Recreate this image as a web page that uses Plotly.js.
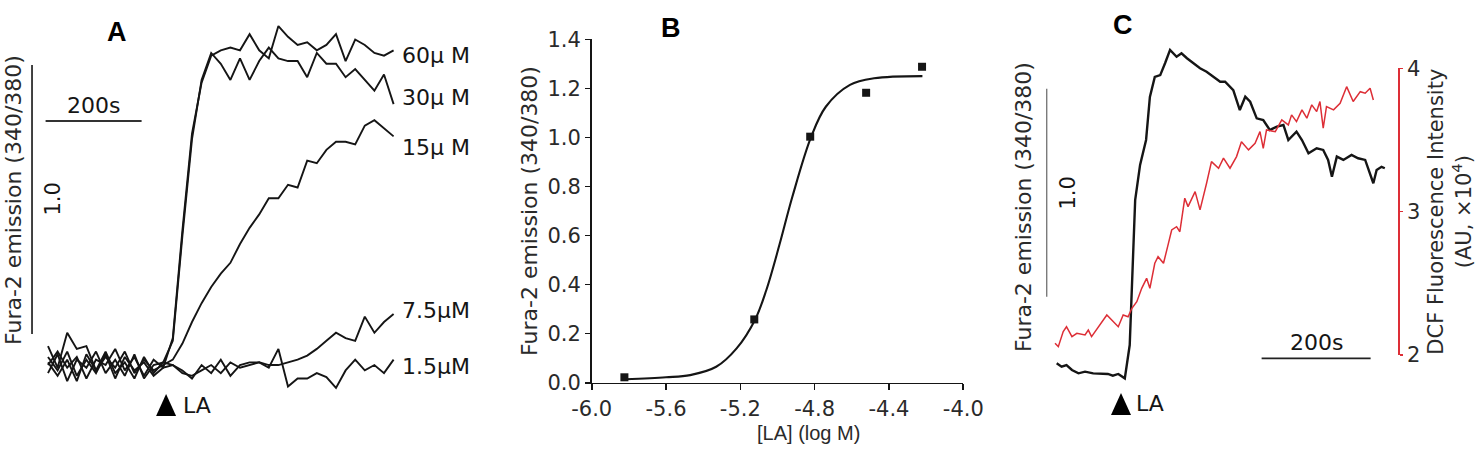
<!DOCTYPE html>
<html>
<head>
<meta charset="utf-8">
<script src="https://cdn.plot.ly/plotly-3.0.1.min.js"></script>
<style>
  html, body { margin: 0; padding: 0; background: #fff; }
  #fig { width: 1478px; height: 453px; }
</style>
</head>
<body>
<div id="fig"></div>
<script>
// ---------- Panel A: Fura-2 ratio traces at five LA concentrations ----------
const timeA = [0, 20, 40, 60, 80, 100, 120, 140, 160, 180, 200, 220, 240, 260, 280, 300, 320, 340, 360,
  380, 400, 420, 440, 460, 480, 500, 520, 540, 560, 580, 600, 620, 640, 660, 680, 700, 720];   // s
const fura60 = [0.03, -0.02, 0.05, -0.04, 0.02, -0.03, 0.04, -0.05, 0.03, -0.02, 0.01, -0.04, -0.01,
  0.10, 0.50, 0.86, 1.05, 1.15, 1.17, 1.18, 1.17, 1.23, 1.17, 1.14, 1.26, 1.22, 1.19, 1.20, 1.17, 1.19,
  1.23, 1.13, 1.21, 1.19, 1.16, 1.15, 1.17];
const fura30 = [-0.03, 0.04, -0.06, 0.02, -0.01, 0.05, -0.03, 0.02, -0.04, 0.04, -0.05, 0.00, 0.01,
  0.09, 0.48, 0.84, 1.06, 1.16, 1.12, 1.06, 1.14, 1.06, 1.13, 1.18, 1.14, 1.13, 1.13, 1.07, 1.16, 1.12,
  1.12, 1.07, 1.10, 1.06, 1.02, 1.08, 0.97];
const fura15 = [0.07, -0.01, 0.12, 0.06, 0.07, -0.02, 0.03, -0.01, 0.05, -0.03, 0.02, -0.02, 0.00,
  0.02, 0.08, 0.16, 0.23, 0.29, 0.34, 0.38, 0.45, 0.51, 0.56, 0.62, 0.62, 0.67, 0.66, 0.76, 0.75, 0.80,
  0.83, 0.83, 0.82, 0.89, 0.91, 0.88, 0.85];
const fura7_5 = [0.00, 0.05, -0.01, 0.03, -0.05, 0.02, 0.00, 0.06, -0.02, 0.03, -0.04, 0.02, -0.01,
  0.00, -0.03, -0.04, -0.02, 0.00, -0.03, 0.01, -0.01, 0.00, 0.01, 0.00, 0.00, 0.01, 0.02, 0.035, 0.06, 0.09,
  0.12, 0.10, 0.09, 0.18, 0.12, 0.16, 0.19];
const fura1_5 = [0.01, -0.04, 0.02, -0.06, 0.04, -0.02, 0.05, -0.03, 0.01, -0.05, 0.03, -0.03, 0.01,
  0.00, -0.02, -0.05, 0.00, -0.03, 0.02, -0.04, 0.00, 0.01, 0.01, -0.01, 0.06, -0.08, -0.05, -0.05, -0.03, -0.045,
  -0.085, -0.02, 0.02, -0.02, 0.00, -0.03, 0.02];
const concLabels = ['60\u00b5 M', '30\u00b5 M', '15\u00b5 M', '7.5\u00b5M', '1.5\u00b5M'];
const laTimeA = 246;      // s, LA addition

// ---------- Panel B: concentration-response ----------
const logConc = [-5.824, -5.125, -4.824, -4.523, -4.222];
const peakRatio = [0.022, 0.258, 1.003, 1.182, 1.288];
const fitLogConc = [-5.82, -5.60, -5.47, -5.33, -5.22, -5.12, -5.06, -4.99, -4.92, -4.82, -4.74, -4.61, -4.48, -4.22];
const fitRatio = [0.014, 0.022, 0.031, 0.065, 0.14, 0.258, 0.378, 0.561, 0.758, 1.0, 1.125, 1.214, 1.241, 1.25];
const xTickVals = [-6.0, -5.6, -5.2, -4.8, -4.4, -4.0];
const xTickText = ['-6.0', '-5.6', '-5.2', '-4.8', '-4.4', '-4.0'];
const yTickVals = [0, 0.2, 0.4, 0.6, 0.8, 1.0, 1.2, 1.4];
const yTickText = ['0.0', '0.2', '0.4', '0.6', '0.8', '1.0', '1.2', '1.4'];

// ---------- Panel C: Fura-2 ratio and DCF fluorescence, same cell ----------
const timeFuraC = [0, 9, 18, 28, 40, 52, 67, 81, 94, 103, 113, 125, 134, 144, 153, 164, 171, 180, 190, 199,
  208, 220, 229, 239, 251, 263, 275, 287, 300, 309, 324, 336, 346, 355, 367, 379, 391, 404, 416, 425,
  440, 450, 462, 477, 489, 498, 505, 514, 526, 541, 553, 566, 581, 587, 596, 602];
const furaC = [0.056, 0.04, 0.048, 0.024, 0.008, 0.016, 0.008, 0.008, 0.005, -0.003, 0.005, -0.016, 0.144, 0.841,
  1.01, 1.13, 1.337, 1.433, 1.442, 1.5, 1.563, 1.53, 1.547, 1.523, 1.499, 1.475, 1.458, 1.434, 1.41, 1.41,
  1.37, 1.274, 1.338, 1.314, 1.234, 1.226, 1.178, 1.194, 1.202, 1.13, 1.17, 1.13, 1.066, 1.09, 1.082, 1.034,
  0.953, 1.05, 1.034, 1.058, 1.042, 1.034, 0.922, 0.986, 1.001, 0.994];
const timeDcfC = [-3, 3, 12, 18, 28, 37, 52, 58, 64, 79, 92, 101, 113, 122, 131, 138, 147, 156, 165, 171,
  180, 186, 196, 205, 211, 220, 226, 235, 241, 254, 263, 275, 284, 297, 306, 318, 330, 339, 352, 364,
  373, 379, 385, 401, 413, 425, 431, 440, 450, 459, 468, 477, 483, 489, 495, 508, 520, 532, 544, 557,
  566, 575, 581];
const dcfC = [2.082, 2.058, 2.163, 2.197, 2.128, 2.151, 2.14, 2.174, 2.128, 2.209, 2.279, 2.244, 2.197, 2.279,
  2.267, 2.326, 2.372, 2.465, 2.535, 2.465, 2.64, 2.686, 2.64, 2.779, 2.872, 2.895, 2.86, 3.094, 3.035, 3.14,
  3.012, 3.198, 3.349, 3.303, 3.373, 3.303, 3.384, 3.488, 3.431, 3.477, 3.558, 3.442, 3.57, 3.558, 3.64,
  3.605, 3.675, 3.628, 3.71, 3.652, 3.745, 3.698, 3.768, 3.582, 3.733, 3.71, 3.756, 3.872, 3.768, 3.837,
  3.826, 3.861, 3.779];
const dcfTickVals = [2, 3, 4];
const laTimeC = 118;

// scale-bar sizes shared by panels A and C
const scaleTime = 200;    // s
const scaleRatio = 1.0;   // 340/380 ratio units

// ---------- drawing ----------
const SANS = '"DejaVu Sans", Verdana, sans-serif';
const ARIAL = '"Liberation Sans", Arial, Helvetica, sans-serif';
const INK = '#151515';
const GREY = '#2a2a2a';
const RED = '#dd2e36';
const W = 1478, H = 453;
const px = v => v / W;            // horizontal pixel -> paper fraction
const py = v => 1 - v / H;        // vertical pixel -> paper fraction

const traceA = (y) => ({
  x: timeA, y: y, xaxis: 'x', yaxis: 'y', type: 'scatter', mode: 'lines',
  line: { color: INK, width: 1.9 }, hoverinfo: 'skip'
});
const seriesA = [fura60, fura30, fura15, fura7_5, fura1_5];

const traces = [
  ...seriesA.map(traceA),
  {
    x: fitLogConc, y: fitRatio, xaxis: 'x2', yaxis: 'y2', type: 'scatter', mode: 'lines',
    line: { color: INK, width: 2.1, shape: 'spline', smoothing: 1 }, hoverinfo: 'skip'
  },
  {
    x: logConc, y: peakRatio, xaxis: 'x2', yaxis: 'y2', type: 'scatter', mode: 'markers',
    marker: { symbol: 'square', size: 8, color: INK }, cliponaxis: false, hoverinfo: 'skip'
  },
  {
    x: timeDcfC, y: dcfC, xaxis: 'x3', yaxis: 'y4', type: 'scatter', mode: 'lines',
    line: { color: RED, width: 1.5 }, hoverinfo: 'skip'
  },
  {
    x: timeFuraC, y: furaC, xaxis: 'x3', yaxis: 'y3', type: 'scatter', mode: 'lines',
    line: { color: INK, width: 2.4 }, hoverinfo: 'skip'
  }
];

// label heights of panel A traces (ratio units), placed beside trace ends
const labelYA = [1.152, 0.996, 0.807, 0.204, -0.004];
const lastT = timeA[timeA.length - 1];

const barA = { t: -33.3, r0: 0.115, tx0: -5, ry: 0.907 };
const barC = { t: -18.3, r0: 0.376, tx0: 376, ry: 0.08 };

const triPath = 'M-10,-11 L10,-11 L0,11 Z';

const shapes = [
  // panel A scale bars
  { type: 'line', xref: 'x', yref: 'y', x0: barA.t, x1: barA.t, y0: barA.r0, y1: barA.r0 + scaleRatio,
    line: { color: '#222', width: 1.7 } },
  { type: 'line', xref: 'x', yref: 'y', x0: barA.tx0, x1: barA.tx0 + scaleTime, y0: barA.ry, y1: barA.ry,
    line: { color: '#333', width: 2 } },
  { type: 'path', xref: 'x', yref: 'y', xsizemode: 'pixel', ysizemode: 'pixel',
    xanchor: laTimeA, yanchor: -0.149, path: triPath, fillcolor: '#000', line: { width: 0 } },
  // panel C scale bars
  { type: 'line', xref: 'x3', yref: 'y3', x0: barC.t, x1: barC.t, y0: barC.r0, y1: barC.r0 + scaleRatio,
    line: { color: '#7a7a7a', width: 1.4 } },
  { type: 'line', xref: 'x3', yref: 'y3', x0: barC.tx0, x1: barC.tx0 + scaleTime, y0: barC.ry, y1: barC.ry,
    line: { color: '#222', width: 1.6 } },
  { type: 'path', xref: 'x3', yref: 'y3', xsizemode: 'pixel', ysizemode: 'pixel',
    xanchor: laTimeC, yanchor: -0.139, path: triPath, fillcolor: '#000', line: { width: 0 } }
];

const ann = (o) => Object.assign({
  showarrow: false, xanchor: 'center', yanchor: 'middle',
  font: { family: SANS, size: 21, color: INK }
}, o);
const letterFont = { family: ARIAL, size: 27, color: '#000' };
const titleFont = { family: SANS, size: 22, color: GREY };

const annotations = [
  // panel letters
  ann({ xref: 'paper', yref: 'paper', x: px(117), y: py(32), text: '<b>A</b>', font: letterFont }),
  ann({ xref: 'paper', yref: 'paper', x: px(671), y: py(28), text: '<b>B</b>', font: letterFont }),
  ann({ xref: 'paper', yref: 'paper', x: px(1123), y: py(25), text: '<b>C</b>', font: letterFont }),
  // panel A
  ann({ xref: 'paper', yref: 'paper', x: px(13), y: py(200), textangle: -90,
        text: 'Fura-2 emission (340/380)', font: titleFont }),
  ann({ xref: 'x', yref: 'y', x: barA.t, xshift: 21, y: barA.r0 + scaleRatio / 2, textangle: -90, text: '1.0' }),
  ann({ xref: 'x', yref: 'y', x: barA.tx0 + scaleTime / 2, y: barA.ry, yanchor: 'bottom', yshift: 1,
        text: '200s', font: { family: SANS, size: 22, color: INK } }),
  ann({ xref: 'x', yref: 'y', x: laTimeA, xshift: 15, y: -0.149, xanchor: 'left', text: 'LA',
        font: { family: SANS, size: 22, color: INK } }),
  ...concLabels.map((t, i) => ann({ xref: 'x', yref: 'y', x: lastT, xshift: 6, y: labelYA[i], xanchor: 'left',
    text: t, font: { family: SANS, size: 22, color: INK } })),
  // panel B x-axis title, set right of the axis centre
  ann({ xref: 'paper', yref: 'paper', x: px(809), y: py(433), text: '[LA] (log M)',
        font: { family: ARIAL, size: 20, color: GREY } }),
  // panel C
  ann({ xref: 'paper', yref: 'paper', x: px(1023), y: py(207), textangle: -90,
        text: 'Fura-2 emission (340/380)', font: titleFont }),
  ann({ xref: 'x3', yref: 'y3', x: barC.t, xshift: 21, y: barC.r0 + scaleRatio / 2, textangle: -90, text: '1.0' }),
  ann({ xref: 'x3', yref: 'y3', x: barC.tx0 + scaleTime / 2, y: barC.ry, yanchor: 'bottom', yshift: 1,
        text: '200s', font: { family: SANS, size: 22, color: INK } }),
  ann({ xref: 'x3', yref: 'y3', x: laTimeC, xshift: 13, y: -0.139, xanchor: 'left', text: 'LA',
        font: { family: SANS, size: 22, color: INK } })
];

const layout = {
  width: W, height: H,
  margin: { l: 0, r: 0, t: 0, b: 0 },
  paper_bgcolor: '#fff', plot_bgcolor: 'rgba(0,0,0,0)',
  showlegend: false,
  font: { family: SANS, size: 21, color: INK },
  // panel A: time (s) against ratio, frameless
  xaxis: { domain: [0, px(500)], range: [-100, 941.67], visible: false },
  yaxis: { domain: [0, 1], range: [-0.327, 1.357], visible: false, anchor: 'x' },
  // panel B
  xaxis2: {
    domain: [px(591.7), px(963.3)], range: [-6, -4], anchor: 'y2',
    tickvals: xTickVals, ticktext: xTickText,
    showline: true, linecolor: INK, linewidth: 1.6, ticks: 'outside', ticklen: 6, tickwidth: 1.6, tickcolor: INK,
    showgrid: false, zeroline: false, tickfont: { family: SANS, size: 21, color: GREY }
  },
  yaxis2: {
    domain: [py(382.7), py(39.3)], range: [0, 1.4], anchor: 'x2',
    tickvals: yTickVals, ticktext: yTickText,
    showline: true, linecolor: INK, linewidth: 1.6, ticks: 'outside', ticklen: 5, tickwidth: 1.6, tickcolor: INK,
    showgrid: false, zeroline: false, tickfont: { family: SANS, size: 21, color: GREY },
    title: { text: 'Fura-2 emission (340/380)', font: titleFont, standoff: 4 }
  },
  // panel C
  xaxis3: { domain: [px(1000), 1], range: [-104, 773], visible: false, anchor: 'y3' },
  yaxis3: { domain: [0, 1], range: [-0.375, 1.803], visible: false, anchor: 'x3' },
  yaxis4: {
    domain: [py(355), py(68.3)], range: [2, 4], anchor: 'free', position: px(1398.3), side: 'right',
    tickvals: dcfTickVals,
    showline: true, linecolor: RED, linewidth: 1.5, ticks: 'outside', ticklen: 3, tickwidth: 1.5, tickcolor: RED,
    showgrid: false, zeroline: false, tickfont: { family: SANS, size: 21, color: GREY },
    title: { text: 'DCF Fluorescence Intensity<br>(AU, \u00d710<sup>4</sup>)',
             font: { family: SANS, size: 21, color: GREY }, standoff: 9 }
  },
  shapes: shapes,
  annotations: annotations
};

Plotly.newPlot('fig', traces, layout, { staticPlot: true, displayModeBar: false });
</script>
</body>
</html>
